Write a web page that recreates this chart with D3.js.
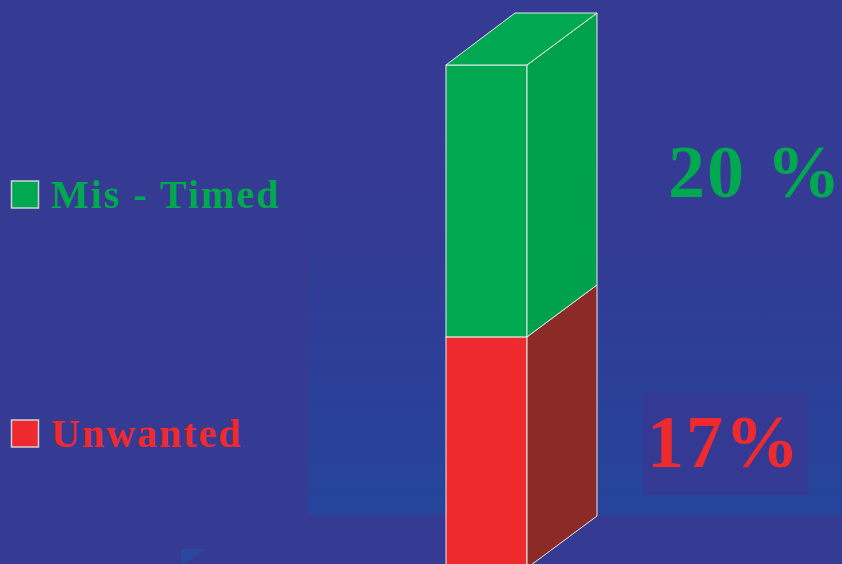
<!DOCTYPE html>
<html><head><meta charset="utf-8">
<script src="https://cdn.jsdelivr.net/npm/d3@7"></script>
<style>html,body{margin:0;padding:0;background:#353a93;overflow:hidden}svg{display:block}</style>
</head><body>
<script>
const categories = ["Unwanted", "Mis - Timed"];
const values = [17, 20];
const valueLabels = ["17%", "20 %"];
const frontColors = ["#ee2a2f", "#00a84f"];
const sideColors = ["#8b2a26", "#00a14c"];
const topColors = ["#8b2a26", "#00a851"];

const W = 842, H = 564;
const svg = d3.select("body").append("svg").attr("width", W).attr("height", H);
const defs = svg.append("defs");
const grad = defs.append("linearGradient").attr("id", "bgGrad").attr("x1", 0).attr("y1", 0).attr("x2", 0).attr("y2", 1);
grad.append("stop").attr("offset", "0%").attr("stop-color", "#353a93");
grad.append("stop").attr("offset", "30%").attr("stop-color", "#333b94");
grad.append("stop").attr("offset", "100%").attr("stop-color", "#25449b");

svg.append("rect").attr("width", W).attr("height", H).attr("fill", "#353a93");
svg.append("rect").attr("x", 308).attr("y", 108).attr("width", 534).attr("height", 407).attr("fill", "url(#bgGrad)");
svg.append("rect").attr("x", 667).attr("y", 120).attr("width", 175).attr("height", 105).attr("fill", "#353b94");
svg.append("rect").attr("x", 643).attr("y", 392).attr("width", 165).attr("height", 103).attr("fill", "#343a93");
svg.append("path").attr("d", "M181,549L206,549L181,566Z").attr("fill", "#2a479d");

const total = d3.sum(values);
const y = d3.scaleLinear().domain([0, total]).range([568, 65]);
const x = d3.scaleBand().domain(["bar"]).range([446, 527]);
const dx = 70, dy = 52;

let cum = 0;
const segs = values.map((v, i) => { const s = {i, y0: cum, y1: cum + v}; cum += v; return s; });
const x0 = x("bar"), x1 = x0 + x.bandwidth();
const stroke = "#ececec";

const g = svg.append("g");
segs.forEach(s => {
  const yb = y(s.y0), yt = y(s.y1);
  g.append("rect").attr("x", x0).attr("y", yt).attr("width", x1 - x0).attr("height", yb - yt)
    .attr("fill", frontColors[s.i]).attr("stroke", stroke).attr("stroke-width", 1);
  g.append("path").attr("d", `M${x1},${yb}L${x1 + dx},${yb - dy}L${x1 + dx},${yt - dy}L${x1},${yt}Z`)
    .attr("fill", sideColors[s.i]).attr("stroke", stroke).attr("stroke-width", 1);
  if (s.i === segs.length - 1) {
    g.append("path").attr("d", `M${x0},${yt}L${x0 + dx - 1},${yt - dy}L${x1 + dx},${yt - dy}L${x1},${yt}Z`)
      .attr("fill", topColors[s.i]).attr("stroke", stroke).attr("stroke-width", 1);
  }
});

// legend
const legendY = [434, 195];
categories.forEach((c, i) => {
  svg.append("rect").attr("x", 11.5).attr("y", legendY[i] - 14).attr("width", 27).attr("height", 27)
    .attr("fill", frontColors[i]).attr("stroke", "#d0d0d8").attr("stroke-width", 1.5);
  svg.append("text").attr("x", 51).attr("y", legendY[i] + 13)
    .attr("font-family", "Liberation Serif, Times New Roman, serif").attr("font-weight", "bold")
    .attr("font-size", 40).attr("letter-spacing", 2).attr("fill", frontColors[i]).text(c);
});

// value labels
const labelPos = [[647, 467], [668, 197]];
const labelSpacing = [2, 2];
valueLabels.forEach((t, i) => {
  svg.append("text").attr("x", labelPos[i][0]).attr("y", labelPos[i][1])
    .attr("font-family", "Liberation Serif, Times New Roman, serif").attr("font-weight", "bold")
    .attr("font-size", 74).attr("letter-spacing", labelSpacing[i]).attr("fill", frontColors[i]).text(t);
});
</script>
</body></html>
